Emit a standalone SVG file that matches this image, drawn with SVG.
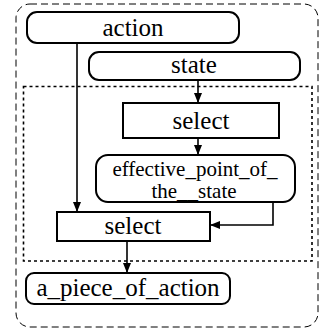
<svg xmlns="http://www.w3.org/2000/svg" width="322" height="333" viewBox="0 0 322 333">
<style>
.n{fill:#fff;stroke:#000;stroke-width:2}
text{font-family:'Liberation Serif','DejaVu Serif',serif;font-size:25px;text-anchor:middle;fill:#000}
text.s{font-size:21px}
.c{fill:none;stroke:#000;stroke-width:1.6}
</style>
<defs>
<marker id="a" viewBox="0 0 10 10" refX="10" refY="5" markerWidth="10" markerHeight="10" markerUnits="userSpaceOnUse" orient="auto">
<path d="M0,1 L10,5 L0,9 z" fill="#000"/>
</marker>
</defs>
<rect x="16" y="4" width="302" height="323" rx="14" fill="none" stroke="#000" stroke-width="1" stroke-dasharray="7,4"/>
<rect x="23.5" y="86.5" width="288.5" height="174.5" fill="none" stroke="#000" stroke-width="1.6" stroke-dasharray="3,3"/>
<g id="action"><rect class="n" x="27" y="12" width="212" height="31" rx="10"/><text x="133" y="36">action</text></g>
<g id="state"><rect class="n" x="89" y="52" width="211" height="28" rx="10"/><text x="194" y="73">state</text></g>
<g id="select1"><rect class="n" x="123" y="103" width="156" height="35"/><text x="201" y="129">select</text></g>
<g id="effective"><rect class="n" x="96" y="155" width="199" height="47" rx="12"/><text class="s" x="195" y="176">effective_point_of_</text><text class="s" x="194" y="198">the__state</text></g>
<g id="select2"><rect class="n" x="57" y="212" width="153" height="29"/><text x="133" y="234">select</text></g>
<g id="piece"><rect class="n" x="26" y="273" width="204" height="31" rx="8"/><text x="128" y="296">a_piece_of_action</text></g>
<g id="connectors">
<path class="c" d="M198,80 V103" marker-end="url(#a)"/>
<path class="c" d="M198,138 V155" marker-end="url(#a)"/>
<path class="c" d="M77,43 V212" marker-end="url(#a)"/>
<path class="c" d="M273,202 V225 H210" marker-end="url(#a)"/>
<path class="c" d="M127,241 V273" marker-end="url(#a)"/>
</g>
</svg>
